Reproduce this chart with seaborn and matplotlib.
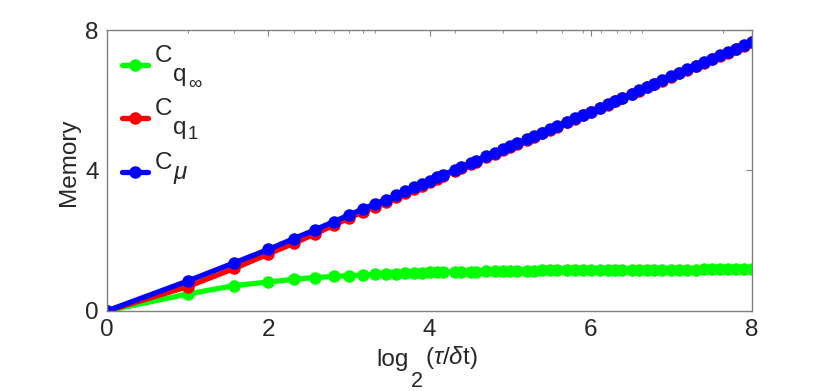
import numpy as np
import pandas as pd
import matplotlib
matplotlib.use('Agg')
import matplotlib.pyplot as plt
import seaborn as sns

# log2(tau/dt) positions of the points
x_vals = [0.00, 1.00, 1.58, 2.00, 2.32, 2.58, 2.81, 3.00, 3.17, 3.32, 3.46, 3.58, 3.70, 3.81, 3.91, 4.00,
          4.09, 4.17, 4.32, 4.39, 4.52, 4.58, 4.70, 4.81, 4.91, 5.00,
          5.09, 5.21, 5.29, 5.39, 5.49, 5.58, 5.70, 5.81, 5.91, 6.00,
          6.11, 6.21, 6.30, 6.39, 6.51, 6.60, 6.70, 6.79, 6.89, 7.00,
          7.10, 7.20, 7.30, 7.40, 7.50, 7.60, 7.70, 7.80, 7.90, 8.00]

c_qinf = [0.00, 0.48, 0.72, 0.82, 0.90, 0.95, 0.98, 1.00, 1.02, 1.04, 1.05, 1.06, 1.07, 1.08, 1.09, 1.10,
          1.10, 1.11, 1.11, 1.12, 1.12, 1.12, 1.13, 1.13, 1.13, 1.14,
          1.14, 1.14, 1.14, 1.15, 1.15, 1.15, 1.15, 1.15, 1.16, 1.16,
          1.16, 1.16, 1.16, 1.16, 1.16, 1.16, 1.17, 1.17, 1.17, 1.17,
          1.17, 1.17, 1.17, 1.18, 1.18, 1.18, 1.18, 1.18, 1.18, 1.18]

c_q1 = [0.00, 0.69, 1.21, 1.62, 1.93, 2.19, 2.44, 2.64, 2.82, 2.97, 3.11, 3.23, 3.36, 3.47, 3.57, 3.67,
        3.77, 3.85, 3.99, 4.06, 4.19, 4.25, 4.37, 4.48, 4.58, 4.67,
        4.76, 4.88, 4.96, 5.06, 5.16, 5.25, 5.37, 5.48, 5.58, 5.67,
        5.78, 5.88, 5.97, 6.06, 6.18, 6.27, 6.37, 6.46, 6.56, 6.67,
        6.77, 6.87, 6.97, 7.07, 7.17, 7.27, 7.36, 7.46, 7.56, 7.66]

c_mu = [0.00, 0.85, 1.37, 1.75, 2.06, 2.31, 2.54, 2.73, 2.90, 3.04, 3.17, 3.29, 3.41, 3.52, 3.62, 3.71,
        3.80, 3.88, 4.02, 4.09, 4.22, 4.28, 4.40, 4.50, 4.60, 4.69,
        4.78, 4.90, 4.98, 5.08, 5.18, 5.27, 5.38, 5.49, 5.59, 5.68,
        5.79, 5.89, 5.98, 6.07, 6.19, 6.28, 6.38, 6.47, 6.57, 6.68,
        6.78, 6.88, 6.98, 7.08, 7.18, 7.28, 7.37, 7.47, 7.57, 7.67]

x_minor = [1.00, 1.58, 2.32, 2.58, 2.81, 3.00, 3.17, 3.32, 4.32, 4.91,
           5.32, 5.64, 5.91, 6.13, 6.32, 6.49, 6.64, 7.64]

series = ['qinf', 'q1', 'mu']
colors = ['#00ff00', '#ff0000', '#0000ff']

df = pd.DataFrame({'x': x_vals, 'qinf': c_qinf, 'q1': c_q1, 'mu': c_mu})

sns.set_style('white')
plt.rcParams['font.family'] = ['Liberation Sans', 'DejaVu Sans']
plt.rcParams['mathtext.fontset'] = 'custom'
plt.rcParams['mathtext.rm'] = 'Liberation Sans'
plt.rcParams['mathtext.it'] = 'Liberation Sans:italic'

txt_col = '#262626'
fs = 17.5

fig = plt.figure(figsize=(8.3, 3.91), dpi=100)
ax = fig.add_axes([0.129, 0.205, 0.777, 0.718])

for col, c in zip(series, colors):
    sns.lineplot(data=df, x='x', y=col, ax=ax, color=c, label=' ', linewidth=3.8,
                 marker='o', markersize=9, markeredgecolor=c, markeredgewidth=0)

ax.set_xlim(0, 8)
ax.set_ylim(0, 8)
ax.set_xticks([0, 2, 4, 6, 8])
ax.set_xticks(x_minor, minor=True)
ax.set_yticks([0, 4, 8])

axis_col = '#808080'
for s in ax.spines.values():
    s.set_color(axis_col)
    s.set_linewidth(1.0)
ax.tick_params(axis='both', which='both', direction='in', top=True, right=True,
               colors=axis_col, labelcolor=txt_col, labelsize=fs)
ax.tick_params(which='major', length=4.5, pad=6)
ax.tick_params(which='minor', length=2.5)

ax.set_ylabel('Memory', fontsize=fs, color=txt_col)
ax.yaxis.set_label_coords(-0.042, 0.53)
ax.set_xlabel('')

# x label built in pieces so the subscript sits low, as in the original
t_log = ax.text(0.417, -0.195, 'log', transform=ax.transAxes, fontsize=fs,
                color=txt_col, ha='left', va='baseline')
t_2 = ax.annotate('2', xy=(1, 0), xycoords=t_log, xytext=(2, -12),
                  textcoords='offset points', fontsize=fs - 2, color=txt_col,
                  ha='left', va='baseline')
ax.annotate(r'($\tau$/$\delta$t)', xy=(1, 0), xycoords=(t_2, t_log), xytext=(1, 0),
            textcoords='offset points', fontsize=fs, color=txt_col,
            ha='left', va='bottom')

leg = ax.legend(loc='upper left', frameon=False, fontsize=fs, handlelength=1.05,
                handletextpad=0.0, labelspacing=1.31, borderaxespad=0.3,
                bbox_to_anchor=(-0.003, 0.968))
hl = leg.get_lines()

# legend labels, drawn after the legend and placed against each handle line
sub = dict(textcoords='offset points', color=txt_col, ha='left', va='baseline', zorder=10)
c_txt = [ax.annotate('C', xy=(1, 0.5), xycoords=h, xytext=(0.8, 2.2), fontsize=fs, **sub)
         for h in hl]
q_a = ax.annotate('q', xy=(1, 0.5), xycoords=(c_txt[0], hl[0]), xytext=(0.5, -11.5), fontsize=fs, **sub)
ax.annotate(r'$\infty$', xy=(1, 0.5), xycoords=(q_a, hl[0]), xytext=(1, -16.5), fontsize=fs - 4, **sub)
q_b = ax.annotate('q', xy=(1, 0.5), xycoords=(c_txt[1], hl[1]), xytext=(0.5, -11), fontsize=fs, **sub)
ax.annotate('1', xy=(1, 0.5), xycoords=(q_b, hl[1]), xytext=(1, -14.5), fontsize=fs - 4, **sub)
ax.annotate(r'$\mu$', xy=(1, 0.5), xycoords=(c_txt[2], hl[2]), xytext=(0.5, -5), fontsize=fs, **sub)

fig.savefig('out.png', dpi=100)
